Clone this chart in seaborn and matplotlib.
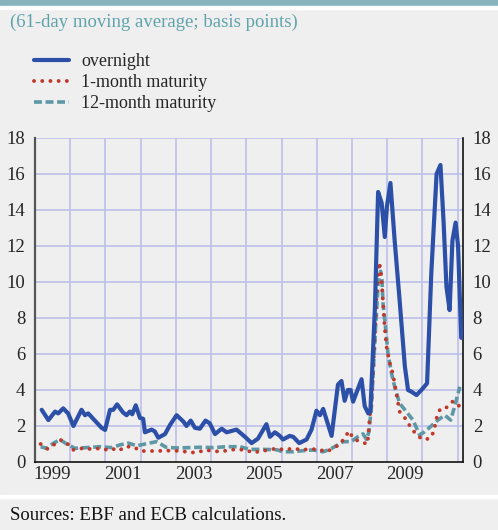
import numpy as np
import pandas as pd
import matplotlib
matplotlib.use("Agg")
import matplotlib.pyplot as plt
import seaborn as sns

# ---------------- data (decimal years, basis points) ----------------
on_t = [1999.19, 1999.38, 1999.57, 1999.66, 1999.80, 1999.94, 2000.09, 2000.32, 2000.42, 2000.51,
        2000.70, 2000.89, 2000.99, 2001.13, 2001.22, 2001.33, 2001.50, 2001.60, 2001.69, 2001.76,
        2001.86, 2001.98, 2002.07, 2002.12, 2002.31, 2002.40, 2002.50, 2002.69, 2002.83, 2003.02,
        2003.21, 2003.30, 2003.42, 2003.54, 2003.68, 2003.84, 2003.96, 2004.11, 2004.30, 2004.44,
        2004.72, 2004.96, 2005.15, 2005.33, 2005.57, 2005.67, 2005.81, 2005.95, 2006.04, 2006.23,
        2006.33, 2006.50, 2006.71, 2006.85, 2006.99, 2007.09, 2007.18, 2007.42, 2007.60, 2007.70,
        2007.79, 2007.88, 2007.96, 2008.03, 2008.27, 2008.36, 2008.46, 2008.52, 2008.65, 2008.74,
        2008.84, 2008.93, 2008.99, 2009.09, 2009.21, 2009.35, 2009.50, 2009.59, 2009.69, 2009.83,
        2009.97, 2010.13, 2010.25, 2010.40, 2010.51, 2010.60, 2010.68, 2010.77, 2010.85, 2010.94,
        2011.01, 2011.10]
on_v = [2.90, 2.33, 2.80, 2.70, 2.98, 2.70, 2.00, 2.90, 2.60, 2.70,
        2.30, 1.90, 1.78, 2.90, 2.90, 3.20, 2.75, 2.60, 2.80, 2.65,
        3.15, 2.45, 2.40, 1.65, 1.80, 1.70, 1.35, 1.55, 2.05, 2.60,
        2.25, 2.00, 2.30, 1.90, 1.85, 2.30, 2.15, 1.55, 1.85, 1.65,
        1.80, 1.40, 1.05, 1.30, 2.10, 1.40, 1.65, 1.45, 1.25, 1.45,
        1.40, 1.05, 1.25, 1.80, 2.85, 2.60, 2.95, 1.45, 4.30, 4.50,
        3.40, 4.00, 4.00, 3.35, 4.60, 3.10, 2.70, 2.80, 8.60, 15.00,
        14.40, 12.50, 14.20, 15.50, 12.30, 9.00, 5.30, 4.00, 3.90, 3.72,
        4.00, 4.37, 10.50, 16.00, 16.50, 13.30, 9.74, 8.44, 12.30, 13.30,
        12.00, 6.90]

m1_t = [1999.16, 1999.36, 1999.55, 1999.74, 1999.93, 2000.07, 2000.28, 2000.51, 2000.75, 2000.96,
        2001.18, 2001.36, 2001.57, 2001.79, 2002.00, 2002.23, 2002.45, 2002.71, 2002.92, 2003.14,
        2003.38, 2003.60, 2003.82, 2004.06, 2004.28, 2004.51, 2004.72, 2004.98, 2005.19, 2005.43,
        2005.64, 2005.86, 2006.09, 2006.33, 2006.57, 2006.80, 2007.04, 2007.28, 2007.46, 2007.67,
        2007.79, 2007.92, 2008.03, 2008.22, 2008.44, 2008.50, 2008.55, 2008.60, 2008.65, 2008.69,
        2008.74, 2008.77, 2008.81, 2008.85, 2008.93, 2008.98, 2009.07, 2009.16, 2009.26, 2009.35,
        2009.50, 2009.66, 2009.81, 2010.00, 2010.21, 2010.32, 2010.41, 2010.51, 2010.70, 2010.85,
        2011.01, 2011.09]
m1_v = [1.00, 0.72, 0.98, 1.22, 1.00, 0.67, 0.76, 0.72, 0.76, 0.67,
        0.76, 0.61, 0.85, 0.85, 0.61, 0.61, 0.61, 0.63, 0.63, 0.61,
        0.54, 0.52, 0.67, 0.61, 0.57, 0.67, 0.70, 0.67, 0.52, 0.61,
        0.67, 0.76, 0.67, 0.76, 0.67, 0.72, 0.70, 0.57, 0.76, 1.00,
        1.37, 1.72, 1.31, 1.13, 1.00, 2.43, 3.26, 5.10, 7.15, 9.00,
        10.50, 11.10, 10.70, 9.74, 7.40, 6.40, 5.50, 4.90, 3.80, 2.80,
        2.45, 1.95, 1.56, 1.25, 1.30, 1.68, 2.52, 2.98, 3.04, 3.35,
        3.10, 3.20]

m12_t = [1999.16, 1999.33, 1999.52, 1999.71, 1999.90, 2000.13, 2000.47, 2000.84, 2001.18, 2001.41,
         2001.65, 2001.89, 2002.17, 2002.45, 2002.74, 2003.11, 2003.68, 2004.06, 2004.44, 2004.82,
         2005.10, 2005.48, 2005.86, 2006.04, 2006.33, 2006.61, 2006.89, 2007.18, 2007.37, 2007.56,
         2007.75, 2007.98, 2008.17, 2008.31, 2008.41, 2008.48, 2008.55, 2008.60, 2008.67, 2008.74,
         2008.81, 2008.85, 2008.88, 2008.95, 2009.02, 2009.12, 2009.21, 2009.35, 2009.54, 2009.73,
         2009.92, 2010.06, 2010.25, 2010.44, 2010.63, 2010.80, 2010.91, 2011.06]
m12_v = [0.85, 0.76, 1.04, 1.24, 1.00, 0.76, 0.80, 0.85, 0.80, 0.95,
         1.05, 0.90, 1.02, 1.13, 0.80, 0.78, 0.82, 0.80, 0.85, 0.85,
         0.70, 0.70, 0.68, 0.57, 0.57, 0.63, 0.67, 0.57, 0.70, 0.91,
         1.13, 1.13, 1.41, 1.56, 1.26, 1.68, 3.07, 4.93, 7.50, 9.90,
         10.60, 10.10, 8.80, 7.50, 6.04, 4.93, 4.18, 3.26, 2.80, 2.33,
         1.50, 1.68, 2.00, 2.33, 2.60, 2.33, 3.07, 4.18]

series_names = ["overnight", "1-month maturity", "12-month maturity"]
year_ticks = list(range(1999, 2012))
year_labels = ["1999", "2001", "2003", "2005", "2007", "2009"]
y_ticks = [0, 2, 4, 6, 8, 10, 12, 14, 16, 18]
subtitle = "(61-day moving average; basis points)"
source = "Sources: EBF and ECB calculations."

# ---------------- styling ----------------
BG = "#efefef"
GRID = "#bcc0ea"
C_ON = "#2c50a8"
C_1M = "#c0392b"
C_12M = "#5e98a6"
TEAL_TXT = "#5fa3ad"
FS = 13.5

sns.set_theme(style="white")
plt.rcParams["font.family"] = ["Liberation Serif", "DejaVu Serif"]
plt.rcParams["axes.facecolor"] = BG
plt.rcParams["figure.facecolor"] = BG

fig = plt.figure(figsize=(4.98, 5.30), dpi=100)
ax = fig.add_axes([35 / 498, 1 - 462 / 530, (463 - 35) / 498, (462 - 138) / 530])
ax.set_facecolor(BG)

# decoration bands
fig.patches.append(plt.Rectangle((0, 1 - 6 / 530), 1, 6 / 530, transform=fig.transFigure,
                                 color="#87b3bd", zorder=0))
fig.patches.append(plt.Rectangle((0, 1 - 9 / 530), 1, 3 / 530, transform=fig.transFigure,
                                 color="white", zorder=0))
fig.patches.append(plt.Rectangle((0, 1 - 498 / 530), 1, 3 / 530, transform=fig.transFigure,
                                 color="white", zorder=0))

sns.lineplot(x=m12_t, y=m12_v, ax=ax, color=C_12M, lw=2.6, sort=False,
             linestyle=(0, (2.2, 1.0)), label=series_names[2], zorder=3)
sns.lineplot(x=m1_t, y=m1_v, ax=ax, color=C_1M, lw=2.8, sort=False,
             linestyle=(0, (0.01, 2.1)), label=series_names[1], zorder=4)
sns.lineplot(x=on_t, y=on_v, ax=ax, color=C_ON, lw=3.0, sort=False,
             label=series_names[0], zorder=5)
ax.get_lines()[0].set_dash_capstyle("butt")
ax.get_lines()[1].set_dash_capstyle("round")

ax.set_xlim(1999.0, 2011.15)
ax.set_ylim(0, 18)

# grid
for yv in y_ticks[1:]:
    ax.axhline(yv, color=GRID, lw=1.2, zorder=1)
for xv in year_ticks[1:]:
    ax.axvline(xv, color=GRID, lw=1.2, zorder=1)

ax.set_xticks(year_ticks)
ax.set_xticklabels([""] * len(year_ticks))
ax.set_xticks([int(l) + 0.5 for l in year_labels], minor=True)
ax.set_xticklabels(year_labels, minor=True, fontsize=FS)
ax.tick_params(axis="x", which="major", direction="out", length=5, width=1.2, color="#222222")
ax.tick_params(axis="x", which="minor", length=0, pad=3)

ax.set_yticks(y_ticks)
ax.set_yticklabels([str(v) for v in y_ticks], fontsize=FS)
ax.tick_params(axis="y", which="both", length=0, pad=7, labelleft=True, labelright=True)

ax.spines["top"].set_visible(False)
ax.spines["left"].set_color("#555555")
ax.spines["left"].set_linewidth(1.6)
ax.spines["right"].set_color("#111111")
ax.spines["right"].set_linewidth(1.2)
ax.spines["bottom"].set_color("#111111")
ax.spines["bottom"].set_linewidth(1.2)
ax.set_xlabel("")
ax.set_ylabel("")

# legend
h, l = ax.get_legend_handles_labels()
order = [l.index(n) for n in series_names]
ax.legend([h[i] for i in order], [l[i] for i in order], loc="upper left",
          bbox_to_anchor=(27 / 498, 1 - 46 / 530), bbox_transform=fig.transFigure,
          frameon=False, fontsize=13, handlelength=1.9, handletextpad=0.7,
          labelspacing=0.22, borderaxespad=0)

fig.text(10 / 498, 1 - 22 / 530, subtitle, color=TEAL_TXT, fontsize=FS, va="center", ha="left")
fig.text(10 / 498, 1 - 515 / 530, source, color="#111111", fontsize=FS, va="center", ha="left")

fig.savefig("out.png", dpi=100, facecolor=BG)
